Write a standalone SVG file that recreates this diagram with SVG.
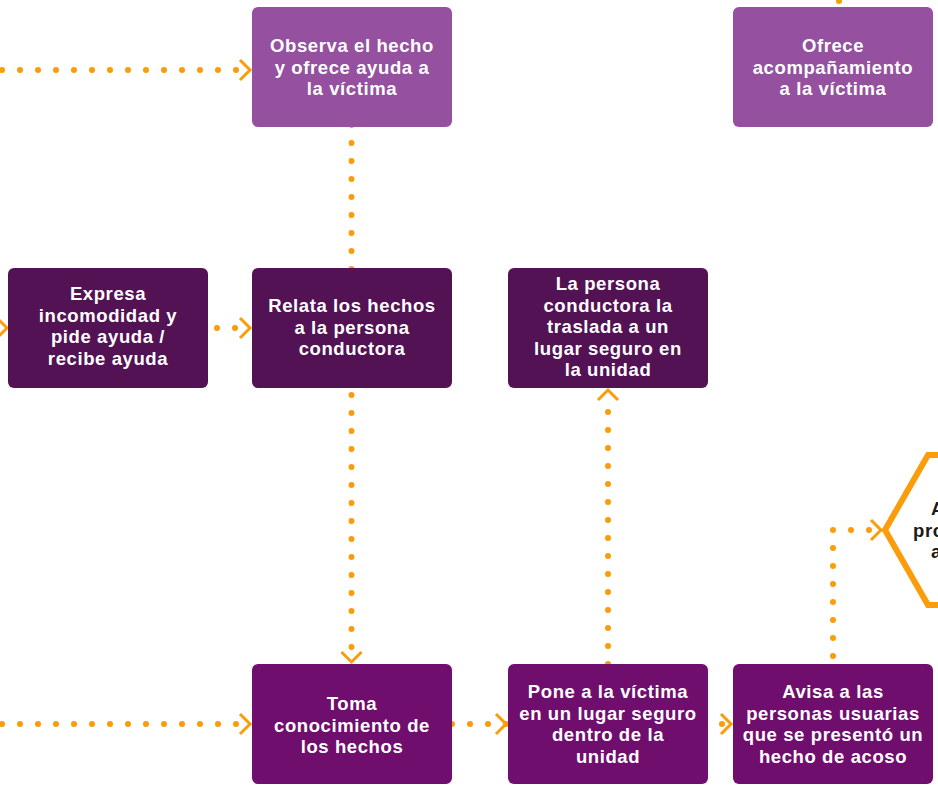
<svg xmlns="http://www.w3.org/2000/svg" width="938" height="793" viewBox="0 0 938 793">
<style>
.dot{fill:none;stroke:#FB9C0A;stroke-width:6;stroke-linecap:round;stroke-dasharray:0 18}
.chev{fill:none;stroke:#FB9C0A;stroke-width:3;stroke-linecap:butt;stroke-linejoin:miter}
.t{font-family:"Liberation Sans",Arial,sans-serif;font-weight:700;font-size:18.5px;letter-spacing:0.6px;fill:#ffffff;text-anchor:middle}
.k{font-family:"Liberation Sans",Arial,sans-serif;font-weight:700;font-size:18.5px;letter-spacing:0.6px;fill:#1a1a1a}
.p1{fill:#9551A0}
.p2{fill:#521254}
.p3{fill:#700E6E}
</style>
<rect width="938" height="793" fill="#ffffff"/>
<g id="connectors">
<path class="dot" d="M839,-17 L839,7"/>
<path class="dot" d="M2,70 L252,70"/>
<path class="chev" d="M240,60 L250,70 L240,80"/>
<path class="dot" d="M351.5,125 L351.5,270"/>
<path class="chev" d="M-3,318 L7,328 L-3,338"/>
<path class="dot" d="M217,328 L252,328"/>
<path class="chev" d="M240,318 L250,328 L240,338"/>
<path class="dot" d="M351.5,395 L351.5,664"/>
<path class="chev" d="M341.5,652 L351.5,662 L361.5,652"/>
<path class="dot" d="M608,664 L608,394"/>
<path class="chev" d="M598,400 L608,390 L618,400"/>
<path class="dot" d="M2,724 L252,724"/>
<path class="chev" d="M240,714 L250,724 L240,734"/>
<path class="dot" d="M452,724 L508,724"/>
<path class="chev" d="M496,714 L506,724 L496,734"/>
<path class="dot" d="M704,724 L733,724"/>
<path class="chev" d="M721,714 L731,724 L721,734"/>
<path class="dot" d="M833,656 L833,530 L883,530"/>
<path class="chev" d="M871,520 L881,530 L871,540"/>
</g>
<g id="n-observa">
<rect class="p1" x="252" y="7" width="200" height="120" rx="6"/>
<text class="t" x="352" y="52">Observa el hecho</text>
<text class="t" x="352" y="74">y ofrece ayuda a</text>
<text class="t" x="352" y="95">la víctima</text>
</g>
<g id="n-ofrece">
<rect class="p1" x="733" y="7" width="200" height="120" rx="6"/>
<text class="t" x="833" y="52">Ofrece</text>
<text class="t" x="833" y="74">acompañamiento</text>
<text class="t" x="833" y="95">a la víctima</text>
</g>
<g id="n-expresa">
<rect class="p2" x="8" y="268" width="200" height="120" rx="6"/>
<text class="t" x="108" y="300">Expresa</text>
<text class="t" x="108" y="321.5">incomodidad y</text>
<text class="t" x="108" y="343">pide ayuda /</text>
<text class="t" x="108" y="364.5">recibe ayuda</text>
</g>
<g id="n-relata">
<rect class="p2" x="252" y="268" width="200" height="120" rx="6"/>
<text class="t" x="352" y="312">Relata los hechos</text>
<text class="t" x="352" y="334">a la persona</text>
<text class="t" x="352" y="355">conductora</text>
</g>
<g id="n-traslada">
<rect class="p2" x="508" y="268" width="200" height="120" rx="6"/>
<text class="t" x="608" y="290">La persona</text>
<text class="t" x="608" y="312">conductora la</text>
<text class="t" x="608" y="333">traslada a un</text>
<text class="t" x="608" y="355">lugar seguro en</text>
<text class="t" x="608" y="376">la unidad</text>
</g>
<g id="n-toma">
<rect class="p3" x="252" y="664" width="200" height="120" rx="6"/>
<text class="t" x="352" y="710">Toma</text>
<text class="t" x="352" y="732">conocimiento de</text>
<text class="t" x="352" y="753">los hechos</text>
</g>
<g id="n-pone">
<rect class="p3" x="508" y="664" width="200" height="120" rx="6"/>
<text class="t" x="608" y="698">Pone a la víctima</text>
<text class="t" x="608" y="720">en un lugar seguro</text>
<text class="t" x="608" y="741">dentro de la</text>
<text class="t" x="608" y="763">unidad</text>
</g>
<g id="n-avisa">
<rect class="p3" x="733" y="664" width="200" height="120" rx="6"/>
<text class="t" x="833" y="698">Avisa a las</text>
<text class="t" x="833" y="720">personas usuarias</text>
<text class="t" x="833" y="741">que se presentó un</text>
<text class="t" x="833" y="763">hecho de acoso</text>
</g>
<g id="n-hex">
<polygon points="928,455 1050,455 1093,530 1050,605 928,605 885,530" fill="#ffffff" stroke="#FB9C0A" stroke-width="6" stroke-linejoin="miter"/>
<text class="k" x="931" y="515">A</text>
<text class="k" x="913" y="537">pro</text>
<text class="k" x="931" y="558">a</text>
</g>
</svg>
